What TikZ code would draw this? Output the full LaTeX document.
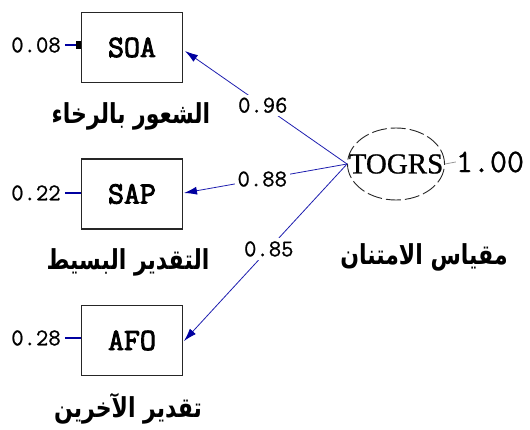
\documentclass[tikz,border=0pt]{standalone}
\usepackage{fontspec}
\usepackage{graphicx}
\usetikzlibrary{shapes.geometric,arrows.meta}
\TeXXeTstate=1
\newfontfamily\arfont[Script=Arabic]{DejaVu Sans}
\newfontfamily\latinserif[FakeBold=0.8]{Liberation Serif}
\newfontfamily\boxfont[FakeBold=3]{Latin Modern Mono}
\newfontfamily\numfont[FakeBold=0.8]{Latin Modern Mono}
\definecolor{pathblue}{RGB}{30,30,175}
\definecolor{tipblue}{RGB}{0,0,160}
\newcommand{\arcaption}[1]{\scalebox{1}[1.25]{\arfont\bfseries\beginR #1\endR}}
\tikzset{
  obsbox/.style={draw=black!85, line width=1.2pt, minimum width=101pt, minimum height=70pt,
    inner sep=0pt, font=\boxfont\fontsize{31}{31}\selectfont},
  latent/.style={ellipse, draw=black!85, dash pattern=on 15pt off 4pt, line width=0.9pt,
    minimum width=97pt, minimum height=72pt, inner sep=0pt,
    font=\latinserif\fontsize{29}{29}\selectfont},
  errlabel/.style={inner sep=1pt, font=\numfont\fontsize{24}{24}\selectfont},
  coef/.style={fill=white, inner sep=3pt, font=\numfont\fontsize{24}{24}\selectfont},
  arlabel/.style={inner sep=0pt, font=\fontsize{22}{26}\selectfont},
  loading/.style={draw=pathblue, line width=0.8pt, -{Latex[length=13pt,width=8pt,color=tipblue]}},
  errline/.style={draw=tipblue, line width=2pt},
}
\begin{document}
\begin{tikzpicture}[x=1pt,y=-1pt]
  \useasboundingbox (0,0) rectangle (530,430);

  % observed indicators
  \node[obsbox] (soa) at (132,47.5) {SOA};
  \node[obsbox] (sap) at (132,194) {SAP};
  \node[obsbox] (afo) at (132,340.5) {AFO};

  % latent factor and its variance
  \node[latent] (togrs) at (396,164) {\makebox[0pt]{TOGRS}};
  \node[inner sep=0pt, font=\numfont\fontsize{33}{33}\selectfont] (var) at (490,162) {1.00};
  \draw[black!40, line width=0.8pt] (togrs.east) -- (var.west);

  % error terms
  \node[errlabel] (e1) at (36,45) {0.08};
  \node[errlabel] (e2) at (36,193) {0.22};
  \node[errlabel] (e3) at (36,338) {0.28};
  \draw[errline, -{Square[length=5pt,width=8pt,color=black]}] ([xshift=3pt]e1.east) -- (e1.east -| soa.west);
  \draw[errline] ([xshift=3pt]e2.east) -- (e2.east -| sap.west);
  \draw[errline] ([xshift=3pt]e3.east) -- (e3.east -| afo.west);

  % factor loadings
  \coordinate (src) at (togrs.west);
  \coordinate (t1) at (185,51);
  \coordinate (t2) at (184,193);
  \coordinate (t3) at (184,341);
  \draw[loading] (src) -- node[coef, pos=0.52] (l1) {0.96} (t1);
  \draw[loading] (src) -- node[coef, pos=0.52] (l2) {0.88} (t2);
  \draw[loading] (src) -- node[coef, pos=0.48] (l3) {0.85} (t3);

  % Arabic captions
  \node[arlabel] (c1) at (131,116) {\arcaption{الشعور بالرخاء}};
  \node[arlabel] (c2) at (128,262) {\arcaption{التقدير البسيط}};
  \node[arlabel] (c3) at (128,409) {\arcaption{تقدير الآخرين}};
  \node[arlabel] (c4) at (424,257) {\arcaption{مقياس الامتنان}};
\end{tikzpicture}
\end{document}
